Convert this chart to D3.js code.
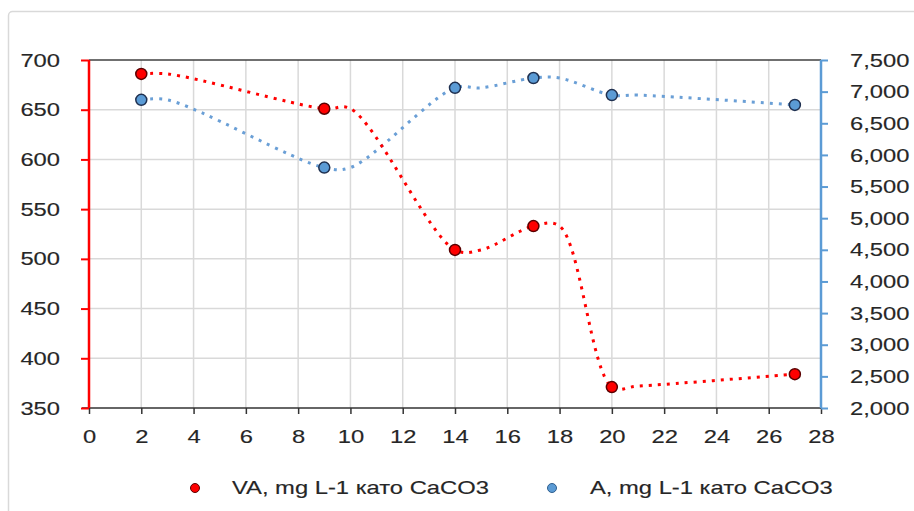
<!DOCTYPE html>
<html>
<head>
<meta charset="utf-8">
<script src="https://cdn.jsdelivr.net/npm/d3@7"></script>
<style>
  body { margin: 0; background: #fff; }
  svg { display: block; font-family: "Liberation Sans", Arial, sans-serif; }
</style>
</head>
<body>
<svg width="914" height="511"></svg>
<script>
// days when samples were taken (markers)
let days = [2, 9, 14, 17, 20, 27];
let vaValues = [686, 651, 509, 533, 371, 384];       // left axis
let aValues = [6870, 5800, 7060, 7215, 6945, 6790];   // right axis

// the smoothed dotted lines hold each value for one day before bending
let lineDays = [2, 3, 9, 10, 14, 15, 17, 18, 20, 21, 27];
let vaLine = [686, 686, 651, 651, 509, 509, 533, 533, 371, 372, 384];
let aLine = [6870, 6870, 5800, 5800, 7060, 7060, 7215, 7215, 6945, 6945, 6790];

let xTicks = d3.range(0, 29, 2);
let leftTicks = [350, 400, 450, 500, 550, 600, 650, 700];
let rightTicks = d3.range(2000, 7501, 500);

let seriesNames = ["VA, mg L-1 като CaCO3", "A, mg L-1 като CaCO3"];
let red = "#ff0000";
let blue = "#5b9bd5";
let textColor = "#262626";
let stretch = 1.25; // text in the picture is a bit wide

let svg = d3.select("svg");
let margin = { top: 60, left: 89, right: 821, bottom: 408 };

let x = d3.scaleLinear().domain([0, 28]).range([margin.left, margin.right]);
let yL = d3.scaleLinear().domain([350, 700]).range([margin.bottom, margin.top]);
let yR = d3.scaleLinear().domain([2000, 7500]).range([margin.bottom, margin.top]);

// outer frame
svg.append("rect")
  .attr("x", 8.5).attr("y", 11.5)
  .attr("width", 960).attr("height", 560)
  .attr("rx", 4)
  .attr("fill", "none")
  .attr("stroke", "#d9d9d9")
  .attr("stroke-width", 1.5);

// grid
let grid = svg.append("g");
grid.selectAll("line.v").data(xTicks.filter(d => d > 0 && d < 28)).join("line")
  .attr("class", "v")
  .attr("x1", d => x(d)).attr("x2", d => x(d))
  .attr("y1", margin.top).attr("y2", margin.bottom)
  .attr("stroke", "#d9d9d9").attr("stroke-width", 1.5);
grid.selectAll("line.h").data(leftTicks.filter(d => d > 350 && d < 700)).join("line")
  .attr("class", "h")
  .attr("x1", margin.left).attr("x2", margin.right)
  .attr("y1", d => yL(d)).attr("y2", d => yL(d))
  .attr("stroke", "#d9d9d9").attr("stroke-width", 1.5);

// top border of plot
svg.append("line")
  .attr("x1", margin.left).attr("x2", margin.right)
  .attr("y1", margin.top).attr("y2", margin.top)
  .attr("stroke", "#404040").attr("stroke-width", 1.5);

// x axis
let xAxis = d3.axisBottom(x).tickValues(xTicks).tickSize(6).tickPadding(16).tickFormat(d3.format("d"));
let xGroup = svg.append("g").attr("transform", "translate(0," + margin.bottom + ")").call(xAxis);
xGroup.select(".domain").attr("d", "M" + (margin.left - 7) + ",0H" + margin.right).attr("stroke", "#333").attr("stroke-width", 1.5);
xGroup.selectAll(".tick line").attr("stroke", "#333").attr("stroke-width", 1.5);

// left axis
let yAxisL = d3.axisLeft(yL).tickValues(leftTicks).tickSize(8).tickPadding(21);
let lGroup = svg.append("g").attr("transform", "translate(" + margin.left + ",0)").call(yAxisL);
lGroup.select(".domain").attr("d", "M0," + margin.top + "V" + margin.bottom).attr("stroke", red).attr("stroke-width", 2.5);
lGroup.selectAll(".tick line").attr("stroke", red).attr("stroke-width", 2);

// right axis
let yAxisR = d3.axisRight(yR).tickValues(rightTicks).tickSize(7).tickPadding(22).tickFormat(d3.format(","));
let rGroup = svg.append("g").attr("transform", "translate(" + margin.right + ",0)").call(yAxisR);
rGroup.select(".domain").attr("d", "M0," + margin.top + "V" + margin.bottom).attr("stroke", blue).attr("stroke-width", 2.5);
rGroup.selectAll(".tick line").attr("stroke", blue).attr("stroke-width", 2);

svg.selectAll(".tick text")
  .attr("font-size", 19)
  .attr("font-family", "Liberation Sans, Arial, sans-serif");

// lines
let lineL = d3.line().x((d, i) => x(lineDays[i])).y(d => yL(d)).curve(d3.curveCatmullRom.alpha(0.5));
let lineR = d3.line().x((d, i) => x(lineDays[i])).y(d => yR(d)).curve(d3.curveCatmullRom.alpha(0.5));

svg.append("path").attr("d", lineR(aLine))
  .attr("fill", "none").attr("stroke", "#6a9fd6").attr("stroke-width", 3)
  .attr("stroke-dasharray", "3,6");
svg.append("path").attr("d", lineL(vaLine))
  .attr("fill", "none").attr("stroke", red).attr("stroke-width", 3)
  .attr("stroke-dasharray", "3,6");

// markers
svg.append("g").selectAll("circle").data(aValues).join("circle")
  .attr("cx", (d, i) => x(days[i])).attr("cy", d => yR(d)).attr("r", 5.5)
  .attr("fill", blue).attr("stroke", "#1f3050").attr("stroke-width", 1.5);
svg.append("g").selectAll("circle").data(vaValues).join("circle")
  .attr("cx", (d, i) => x(days[i])).attr("cy", d => yL(d)).attr("r", 5.5)
  .attr("fill", red).attr("stroke", "#5a0000").attr("stroke-width", 1.5);

// legend
let legend = svg.append("g");
let legendX = [195, 552];
let legendColors = [red, blue];
let legendStroke = ["#5a0000", "#2f5f8f"];
seriesNames.forEach((name, i) => {
  legend.append("circle")
    .attr("cx", legendX[i]).attr("cy", 488).attr("r", 4.5)
    .attr("fill", legendColors[i]).attr("stroke", legendStroke[i]).attr("stroke-width", 1);
  legend.append("text")
    .attr("x", legendX[i] + (i === 0 ? 37 : 38)).attr("y", 494)
    .attr("font-size", 19)
    .text(name);
});

// widen all text a little to match the picture, and darken it
svg.selectAll("text").each(function() {
  let w = this.getComputedTextLength();
  d3.select(this)
    .attr("textLength", w * stretch).attr("lengthAdjust", "spacingAndGlyphs")
    .attr("fill", textColor)
    .attr("stroke", textColor).attr("stroke-width", 0.15);
});
</script>
</body>
</html>
